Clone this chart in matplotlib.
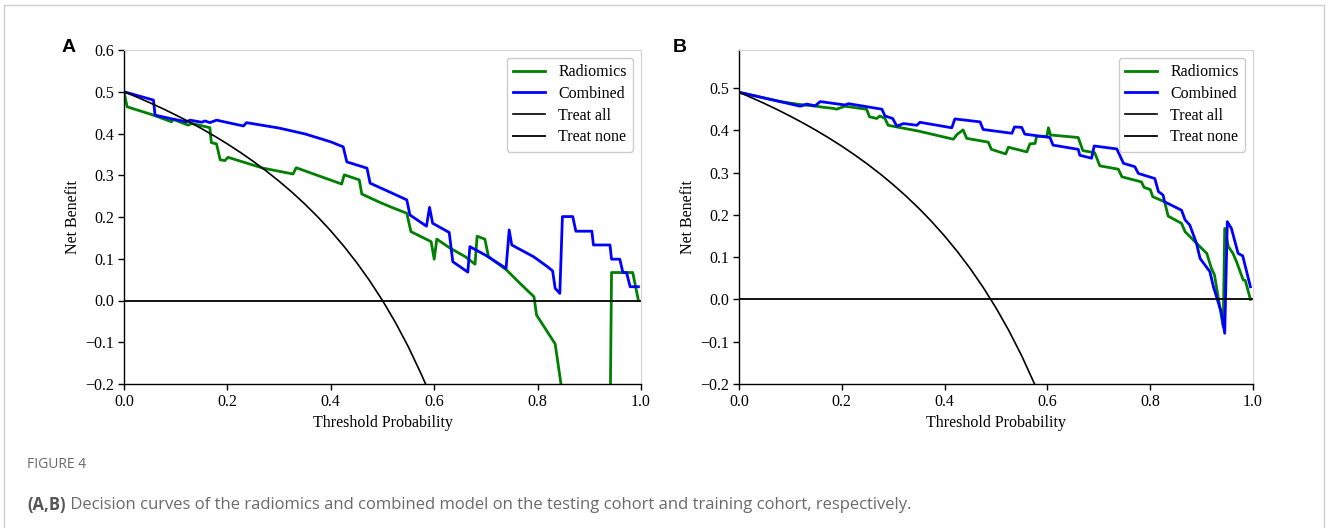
import matplotlib
matplotlib.use("Agg")
import matplotlib.pyplot as plt
from matplotlib.patches import Rectangle

# ---------------- data ----------------
# Panel A (testing cohort)
a_treat_x = [0.0, 0.025, 0.05, 0.075, 0.10, 0.125, 0.15, 0.175, 0.20, 0.225, 0.25, 0.275, 0.30, 0.325,
             0.35, 0.375, 0.40, 0.425, 0.45, 0.475, 0.50, 0.525, 0.55, 0.575, 0.5833, 0.60]
a_treat_y = [0.50, 0.4872, 0.4737, 0.4595, 0.4444, 0.4286, 0.4118, 0.3939, 0.375, 0.3548, 0.3333, 0.3103,
             0.2857, 0.2593, 0.2308, 0.20, 0.1667, 0.1304, 0.0909, 0.0476, 0.0, -0.0526, -0.1111, -0.1765,
             -0.20, -0.25]

a_comb_x = [0.0, 0.057, 0.06, 0.089, 0.121, 0.128, 0.15, 0.157, 0.166, 0.179, 0.231, 0.237, 0.30, 0.35, 0.40,
            0.424, 0.431, 0.47, 0.476, 0.51, 0.547, 0.553, 0.585, 0.591, 0.597, 0.629, 0.636, 0.665, 0.669,
            0.70, 0.739, 0.745, 0.75, 0.792, 0.80, 0.82, 0.829, 0.834, 0.843, 0.848, 0.868, 0.874, 0.905,
            0.908, 0.94, 0.943, 0.959, 0.965, 0.972, 0.979, 0.995]
a_comb_y = [0.50, 0.48, 0.444, 0.436, 0.428, 0.432, 0.427, 0.43, 0.426, 0.432, 0.418, 0.426, 0.413, 0.399, 0.38,
            0.368, 0.332, 0.317, 0.281, 0.262, 0.241, 0.205, 0.178, 0.223, 0.185, 0.163, 0.093, 0.068, 0.129,
            0.108, 0.077, 0.169, 0.133, 0.105, 0.098, 0.08, 0.071, 0.029, 0.017, 0.201, 0.201, 0.166, 0.166,
            0.133, 0.133, 0.099, 0.099, 0.067, 0.067, 0.033, 0.033]

a_rad_x = [0.0, 0.006, 0.057, 0.092, 0.095, 0.124, 0.131, 0.166, 0.169, 0.179, 0.186, 0.195, 0.201, 0.269,
           0.327, 0.333, 0.421, 0.426, 0.455, 0.46, 0.495, 0.52, 0.547, 0.555, 0.594, 0.60, 0.605, 0.63,
           0.66, 0.679, 0.683, 0.698, 0.705, 0.74, 0.766, 0.793, 0.798, 0.834, 0.845, 0.848, 0.86, 0.93,
           0.939, 0.943, 0.984, 0.995]
a_rad_y = [0.50, 0.464, 0.444, 0.428, 0.434, 0.42, 0.424, 0.414, 0.378, 0.375, 0.337, 0.335, 0.343, 0.317,
           0.303, 0.318, 0.279, 0.301, 0.289, 0.255, 0.235, 0.222, 0.209, 0.165, 0.141, 0.099, 0.147, 0.126,
           0.105, 0.087, 0.154, 0.147, 0.105, 0.073, 0.041, 0.009, -0.035, -0.104, -0.198, -0.26, -0.5, -0.8,
           -0.45, 0.067, 0.067, 0.0]

# Panel B (training cohort)
b_treat_x = [0.0, 0.025, 0.05, 0.075, 0.10, 0.125, 0.15, 0.175, 0.20, 0.225, 0.25, 0.275, 0.30, 0.325,
             0.35, 0.375, 0.40, 0.425, 0.45, 0.475, 0.50, 0.525, 0.55, 0.575, 0.60]
b_treat_y = [0.49, 0.4769, 0.4632, 0.4487, 0.4333, 0.4171, 0.40, 0.3818, 0.3625, 0.3419, 0.32, 0.2966,
             0.2714, 0.2444, 0.2154, 0.184, 0.15, 0.113, 0.0727, 0.0286, -0.02, -0.0737, -0.1333, -0.20,
             -0.275]

b_comb_x = [0.0, 0.08, 0.119, 0.132, 0.148, 0.158, 0.206, 0.213, 0.278, 0.284, 0.299, 0.307, 0.32, 0.346,
            0.352, 0.414, 0.42, 0.469, 0.475, 0.531, 0.536, 0.55, 0.556, 0.605, 0.611, 0.66, 0.663, 0.686,
            0.691, 0.735, 0.748, 0.77, 0.777, 0.809, 0.816, 0.825, 0.828, 0.861, 0.868, 0.877, 0.89, 0.897,
            0.916, 0.923, 0.939, 0.945, 0.95, 0.958, 0.971, 0.98, 0.995]
b_comb_y = [0.49, 0.468, 0.457, 0.462, 0.458, 0.468, 0.46, 0.463, 0.45, 0.434, 0.428, 0.41, 0.416, 0.412,
            0.419, 0.406, 0.427, 0.42, 0.402, 0.393, 0.408, 0.407, 0.391, 0.383, 0.365, 0.355, 0.341, 0.334,
            0.363, 0.356, 0.322, 0.314, 0.298, 0.286, 0.255, 0.247, 0.231, 0.211, 0.188, 0.176, 0.133, 0.097,
            0.066, 0.03, -0.033, -0.08, 0.184, 0.168, 0.109, 0.103, 0.03]

b_rad_x = [0.0, 0.08, 0.119, 0.151, 0.161, 0.183, 0.19, 0.206, 0.248, 0.254, 0.268, 0.274, 0.284, 0.29,
           0.35, 0.417, 0.424, 0.436, 0.443, 0.485, 0.491, 0.519, 0.524, 0.56, 0.566, 0.576, 0.579, 0.599,
           0.602, 0.606, 0.66, 0.669, 0.692, 0.702, 0.738, 0.745, 0.783, 0.788, 0.80, 0.805, 0.828, 0.835,
           0.861, 0.868, 0.89, 0.91, 0.919, 0.925, 0.942, 0.945, 0.952, 0.961, 0.968, 0.981, 0.985, 0.995]
b_rad_y = [0.49, 0.468, 0.461, 0.457, 0.455, 0.452, 0.45, 0.457, 0.45, 0.432, 0.428, 0.434, 0.428, 0.412,
           0.398, 0.379, 0.39, 0.401, 0.381, 0.372, 0.355, 0.344, 0.36, 0.349, 0.368, 0.369, 0.386, 0.386,
           0.406, 0.389, 0.383, 0.352, 0.347, 0.316, 0.308, 0.29, 0.278, 0.265, 0.26, 0.243, 0.231, 0.197,
           0.18, 0.16, 0.133, 0.109, 0.074, 0.058, -0.065, 0.168, 0.125, 0.109, 0.089, 0.046, 0.045, 0.0]

x_ticks = [0.0, 0.2, 0.4, 0.6, 0.8, 1.0]
a_y_ticks = [-0.2, -0.1, 0.0, 0.1, 0.2, 0.3, 0.4, 0.5, 0.6]
b_y_ticks = [-0.2, -0.1, 0.0, 0.1, 0.2, 0.3, 0.4, 0.5]
a_ylim = (-0.2, 0.6)
b_ylim = (-0.2, 0.59)

legend_labels = ["Radiomics", "Combined", "Treat all", "Treat none"]
panel_letters = ["A", "B"]
caption_label = "FIGURE 4"
caption_bold = "(A,B)"
caption_text = " Decision curves of the radiomics and combined model on the testing cohort and training cohort, respectively."

# ---------------- drawing ----------------
W, H = 1328, 528
fig = plt.figure(figsize=(W / 100, H / 100), dpi=100)
fig.patch.set_facecolor("white")

serif = ["Liberation Serif", "DejaVu Serif"]
tick_fs = 11.5


def make_axes(left, right, top, bottom):
    return fig.add_axes([left / W, 1 - bottom / H, (right - left) / W, (bottom - top) / H])


axA = make_axes(124, 641, 50, 384)
axB = make_axes(739, 1253, 50, 384)

panels = [
    (axA, a_rad_x, a_rad_y, a_comb_x, a_comb_y, a_treat_x, a_treat_y, a_y_ticks, a_ylim),
    (axB, b_rad_x, b_rad_y, b_comb_x, b_comb_y, b_treat_x, b_treat_y, b_y_ticks, b_ylim),
]

for ax, rx, ry, cx, cy, tx, ty, yt, yl in panels:
    ax.plot(rx, ry, color="green", lw=2.0, label=legend_labels[0])
    ax.plot(cx, cy, color="blue", lw=2.0, label=legend_labels[1])
    ax.plot(tx, ty, color="black", lw=1.2, label=legend_labels[2])
    ax.plot([0, 1], [0, 0], color="black", lw=1.3, label=legend_labels[3])
    ax.set_xlim(0, 1)
    ax.set_ylim(*yl)
    ax.set_xticks(x_ticks)
    ax.set_xticklabels([f"{v:.1f}" for v in x_ticks])
    ax.set_yticks(yt)
    ax.set_yticklabels([("\u2212" if v < 0 else "") + f"{abs(v):.1f}" for v in yt])
    for lab in ax.get_xticklabels() + ax.get_yticklabels():
        lab.set_fontfamily(serif)
        lab.set_fontsize(tick_fs)
    ax.tick_params(direction="out", length=4, width=1, colors="black", pad=3)
    ax.spines["left"].set_color("black")
    ax.spines["bottom"].set_color("black")
    ax.spines["left"].set_linewidth(1.0)
    ax.spines["bottom"].set_linewidth(1.0)
    ax.spines["top"].set_color("#d4d4d4")
    ax.spines["right"].set_color("#d4d4d4")
    ax.spines["top"].set_linewidth(0.8)
    ax.spines["right"].set_linewidth(0.8)
    ax.set_xlabel("Threshold Probability", fontfamily=serif, fontsize=tick_fs, labelpad=4)
    ax.set_ylabel("Net Benefit", fontfamily=serif, fontsize=tick_fs, labelpad=3)
    leg = ax.legend(loc="upper right", prop={"family": serif, "size": tick_fs},
                    frameon=True, fancybox=True, framealpha=1.0, edgecolor="#cccccc",
                    borderaxespad=0.5, handlelength=2.0, labelspacing=0.35)

# panel letters
fig.text(62 / W, 1 - 48 / H, panel_letters[0], fontfamily=["Liberation Sans", "DejaVu Sans"],
         fontweight="bold", fontsize=14, va="center", ha="left")
fig.text(673 / W, 1 - 48 / H, panel_letters[1], fontfamily=["Liberation Sans", "DejaVu Sans"],
         fontweight="bold", fontsize=14, va="center", ha="left")

# caption
cap_font = ["Open Sans", "DejaVu Sans"]
fig.text(27 / W, 1 - 465 / H, caption_label, fontfamily=cap_font, fontsize=10,
         color="#6a6a6a", va="center", ha="left")
t1 = fig.text(27 / W, 1 - 505 / H, caption_bold, fontfamily=cap_font, fontsize=12.0,
              fontweight="bold", color="#555555", va="center", ha="left")
fig.canvas.draw()
bb = t1.get_window_extent()
fig.text(bb.x1 / W, 1 - 505 / H, caption_text, fontfamily=cap_font, fontsize=12.0,
         color="#6a6a6a", va="center", ha="left")

# outer frame of the figure
fig.add_artist(Rectangle((4 / W, -0.01), (1324 - 4) / W, 1 - 5 / H + 0.01, transform=fig.transFigure,
                         fill=False, edgecolor="#cfcfcf", lw=1.0))

fig.savefig("out.png", dpi=100, facecolor="white")
